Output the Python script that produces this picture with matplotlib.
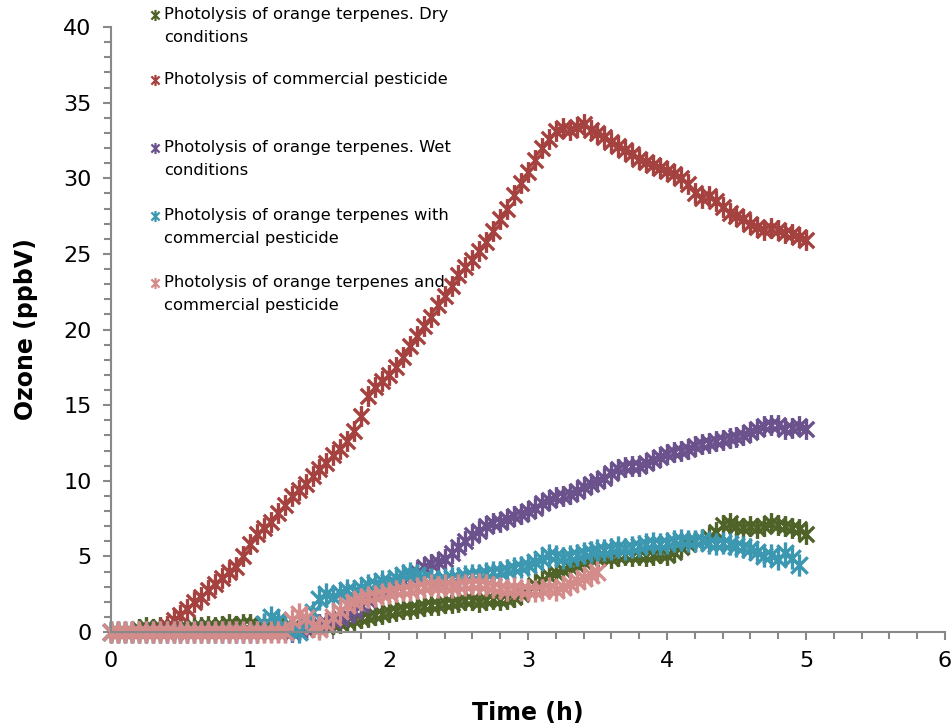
import numpy as np
import matplotlib
matplotlib.use("Agg")
import matplotlib.pyplot as plt
from matplotlib.path import Path
from matplotlib.ticker import MultipleLocator

# ---------------- data ----------------
time_red = np.round(np.arange(0, 5.0001, 0.05), 2)
ozone_red = [0, 0, 0, 0, 0, 0, 0, 0.1, 0.4, 0.8,
             1.1, 1.5, 2.0, 2.3, 2.8, 3.2, 3.6, 4.0, 4.3, 5.0,
             5.8, 6.5, 6.9, 7.3, 7.9, 8.4, 9.0, 9.4, 9.8, 10.3,
             10.8, 11.2, 11.7, 12.1, 12.6, 13.3, 14.3, 15.6, 16.2, 16.6,
             17.0, 17.5, 18.2, 18.9, 19.6, 20.2, 20.8, 21.6, 22.2, 22.9,
             23.6, 24.1, 24.6, 25.2, 25.8, 26.5, 27.3, 28.0, 28.9, 29.7,
             30.4, 31.2, 32.0, 32.6, 33.1, 33.3, 33.2, 33.4, 33.6, 33.2,
             33.0, 32.7, 32.4, 32.1, 31.9, 31.6, 31.3, 31.1, 30.9, 30.7,
             30.5, 30.3, 30.0, 29.6, 29.0, 28.7, 28.8, 28.5, 28.1, 27.7,
             27.5, 27.3, 27.0, 26.8, 26.6, 26.7, 26.6, 26.4, 26.3, 26.1,
             25.9]

time_dry = np.round(np.arange(0, 5.0001, 0.05), 2)
ozone_dry = [0, 0, 0, 0, 0.2, 0.3, 0.2, 0.3, 0.2, 0.3,
             0.3, 0.2, 0.3, 0.3, 0.4, 0.3, 0.4, 0.5, 0.4, 0.5,
             0.5, 0.4, 0.5, 0.4, 0.5, 0.4, 0.3, 0.2, 0.2, 0.3,
             0.3, 0.4, 0.5, 0.6, 0.7, 0.8, 0.9, 1.0, 1.1, 1.2,
             1.3, 1.4, 1.5, 1.5, 1.6, 1.7, 1.8, 1.8, 1.9, 1.9,
             2.0, 2.1, 2.1, 2.0, 2.1, 2.2, 2.1, 2.2, 2.3, 2.5,
             2.8, 3.1, 3.4, 3.7, 3.9, 4.1, 4.3, 4.4, 4.6, 4.8,
             4.9, 5.0, 4.9, 5.0, 5.1, 5.0, 5.1, 5.0, 5.1, 5.2,
             5.1, 5.3, 5.6, 5.8, 6.0, 6.1, 6.3, 6.6, 7.1, 7.2,
             7.0, 6.9, 7.0, 6.9, 7.0, 7.2, 7.1, 7.0, 6.9, 6.8,
             6.5]

time_wet = np.round(np.arange(0, 5.0001, 0.05), 2)
ozone_wet = [0, 0, 0, 0, 0, 0, 0, 0, 0, 0,
             0, 0, 0, 0, 0, 0, 0, 0, 0, 0,
             0, 0, 0, 0, 0, 0, 0, 0.1, 0.2, 0.3,
             0.5, 0.6, 0.8, 0.9, 1.1, 1.4, 1.8, 2.1, 2.4, 2.7,
             3.0, 3.2, 3.4, 3.7, 4.0, 4.3, 4.5, 4.6, 4.8, 5.2,
             5.6, 6.0, 6.4, 6.7, 7.0, 7.2, 7.3, 7.5, 7.7, 7.8,
             8.0, 8.2, 8.5, 8.7, 8.9, 9.0, 9.1, 9.3, 9.6, 9.8,
             10.0, 10.2, 10.5, 10.8, 10.9, 11.0, 11.0, 11.2, 11.4, 11.6,
             11.8, 11.9, 12.0, 12.1, 12.3, 12.4, 12.5, 12.6, 12.7, 12.8,
             12.9, 13.0, 13.2, 13.4, 13.6, 13.7, 13.7, 13.4, 13.5, 13.6,
             13.4]

time_with = np.round(np.arange(0, 4.9501, 0.05), 2)
ozone_with = [0, 0, 0, 0, 0, 0, 0, 0, 0, 0,
              0, 0, 0, 0, 0, 0, 0, 0, 0, 0,
              0, 0, 0.5, 1.0, 0.8, 0.4, 0.1, 0.0, 0.6, 1.3,
              2.2, 2.5, 2.3, 2.6, 2.8, 2.7, 2.9, 3.1, 3.2, 3.4,
              3.3, 3.6, 3.8, 3.9, 3.8, 3.6, 3.5, 3.4, 3.5, 3.6,
              3.6, 3.7, 3.8, 3.8, 3.9, 4.0, 4.0, 4.1, 4.2, 4.3,
              4.4, 4.6, 4.8, 5.1, 5.0, 4.9, 5.0, 5.1, 5.2, 5.3,
              5.4, 5.4, 5.5, 5.6, 5.5, 5.6, 5.7, 5.8, 5.9, 5.8,
              5.9, 6.0, 6.1, 6.0, 6.0, 6.1, 5.9, 5.8, 5.9, 5.8,
              5.7, 5.6, 5.5, 5.3, 5.0, 5.1, 4.8, 5.2, 4.9, 4.4]

time_and = np.round(np.arange(0, 3.5001, 0.05), 2)
ozone_and = [0, 0, 0, 0, 0, 0, 0, 0, 0, 0,
             0, 0, 0, 0, 0, 0, 0, 0, 0, 0,
             0, 0, 0, 0, 0, 0, 0.8, 1.2, 0.9, 0.4,
             0.2, 0.5, 1.0, 1.4, 1.8, 2.0, 2.2, 2.3, 2.4, 2.5,
             2.6, 2.7, 2.8, 2.8, 2.9, 3.0, 3.1, 3.0, 3.1, 3.0,
             3.1, 3.1, 3.2, 3.2, 3.1, 3.0, 2.9, 2.8, 2.9, 2.8,
             2.8, 2.7, 2.8, 2.9, 2.8, 3.0, 3.2, 3.4, 3.6, 3.8,
             4.0]

labels = ["Photolysis of orange terpenes. Dry\nconditions",
          "Photolysis of commercial pesticide",
          "Photolysis of orange terpenes. Wet\nconditions",
          "Photolysis of orange terpenes with\ncommercial pesticide",
          "Photolysis of orange terpenes and\ncommercial pesticide"]
colors = ["#4F6228", "#A5423F", "#6B528C", "#3C98B0", "#D48C8B"]

x_ticks = [0, 1, 2, 3, 4, 5, 6]
y_ticks = [0, 5, 10, 15, 20, 25, 30, 35, 40]

# ---------------- style ----------------
plt.rcParams['font.family'] = ['DejaVu Sans']

star = Path([(-1, -1), (1, 1), (-1, 1), (1, -1), (0, -1.35), (0, 1.35)],
            [Path.MOVETO, Path.LINETO, Path.MOVETO, Path.LINETO,
             Path.MOVETO, Path.LINETO])

W, H = 953, 725
fig = plt.figure(figsize=(W / 100, H / 100), dpi=100)
ax = fig.add_axes([111 / W, 1 - 632 / H, (945 - 111) / W, (632 - 27) / H])

series = [(time_dry, ozone_dry, 15), (time_red, ozone_red, 15),
          (time_wet, ozone_wet, 15), (time_with, ozone_with, 16),
          (time_and, ozone_and, 16)]
for (t, v, ms), c, lab in zip(series, colors, labels):
    ax.plot(t, v, linestyle='none', marker=star, markersize=ms,
            markeredgewidth=2.4, markeredgecolor=c, markerfacecolor='none',
            label=lab, clip_on=False)

ax.set_xlim(0, 6)
ax.set_ylim(0, 40)
ax.set_xticks(x_ticks)
ax.set_yticks(y_ticks)
ax.xaxis.set_minor_locator(MultipleLocator(0.2))
ax.yaxis.set_minor_locator(MultipleLocator(1))
for s in ['top', 'right']:
    ax.spines[s].set_visible(False)
for s in ['left', 'bottom']:
    ax.spines[s].set_color('#898989')
    ax.spines[s].set_linewidth(1.5)
ax.tick_params(axis='both', which='both', direction='out', color='#898989',
               width=1.5, labelsize=16, pad=8)
ax.tick_params(axis='both', which='major', length=6)
ax.tick_params(axis='both', which='minor', length=5)

ax.set_xlabel("Time (h)", fontsize=17, fontweight='bold', labelpad=21)
ax.set_ylabel("Ozone (ppbV)", fontsize=17, fontweight='bold', labelpad=18)

# legend (manual placement, mimicking the original layout)
legend_rows_px = [15, 80, 148, 216, 283]
for lab, c, py in zip(labels, colors, legend_rows_px):
    yf = 1 - py / H
    fig.lines.append(plt.Line2D([155 / W], [yf], transform=fig.transFigure,
                                linestyle='none', marker=star, markersize=8,
                                markeredgewidth=1.6, markeredgecolor=c,
                                markerfacecolor='none'))
    fig.text(164 / W, 1 - (py - 8) / H, lab, fontsize=11.8, va='top',
             ha='left', linespacing=1.68, color='black')

fig.savefig("out.png", dpi=100)
